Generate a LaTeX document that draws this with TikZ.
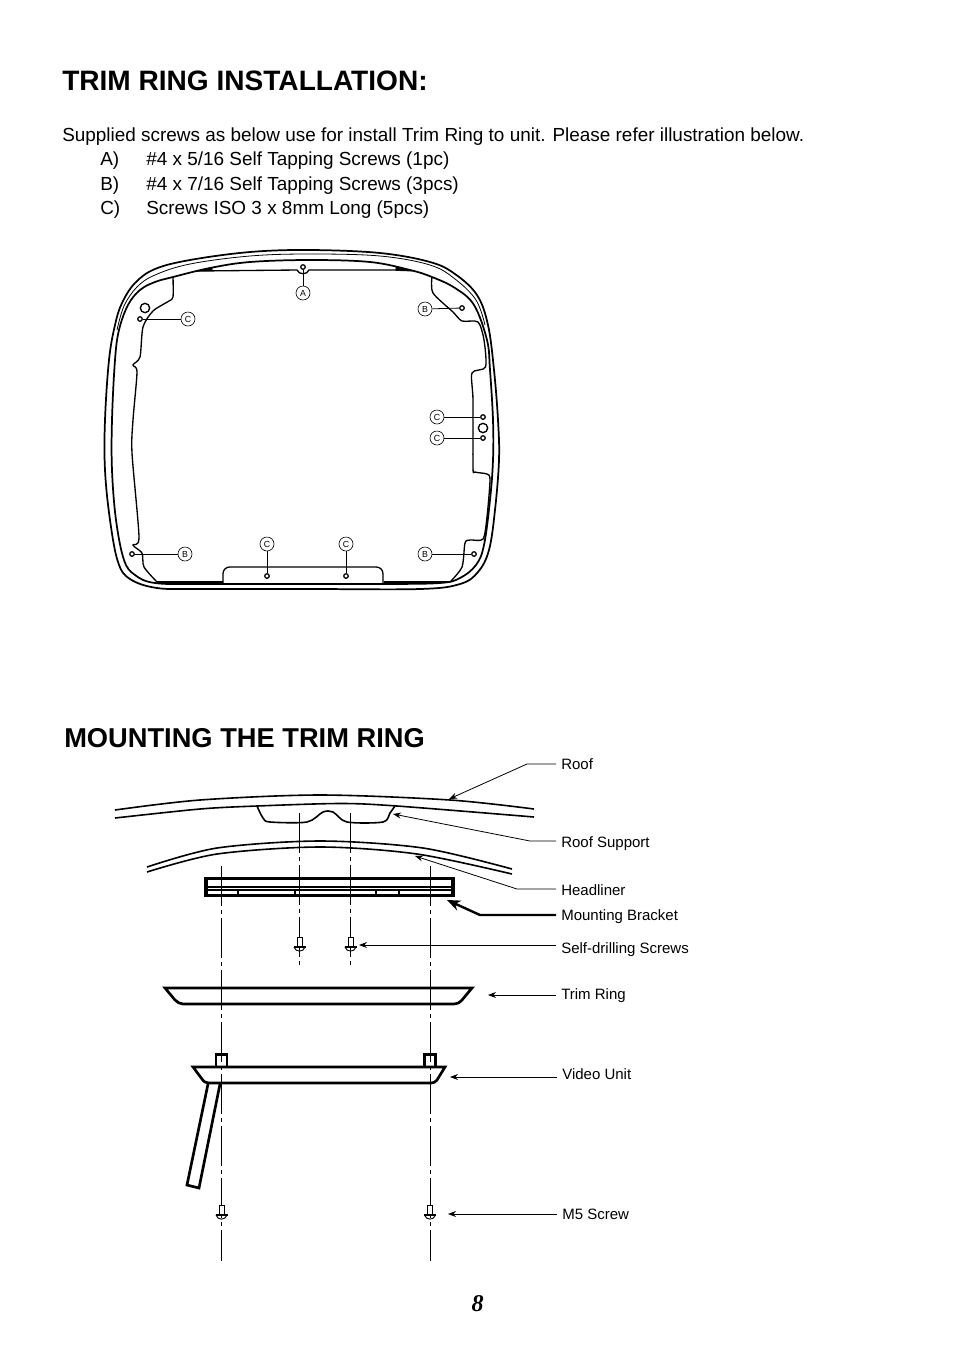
\documentclass[tikz,border=0pt]{standalone}
\usepackage{fontspec}
\setmainfont{Liberation Sans}
\newfontfamily\numfont{Liberation Serif}
\usetikzlibrary{arrows.meta}
\tikzset{
  heading/.style={anchor=west,inner sep=0pt,font=\bfseries\fontsize{21.05}{24}\selectfont},
  headingtwo/.style={anchor=west,inner sep=0pt,font=\bfseries\fontsize{20.45}{24}\selectfont},
  bodytext/.style={anchor=west,inner sep=0pt,font=\fontsize{14.2}{16}\selectfont},
  callout/.style={anchor=west,inner sep=0pt,inner xsep=3.75pt,font=\fontsize{11.25}{14}\selectfont},
  letter/.style={circle,draw,inner sep=0pt,minimum size=10.5pt,line width=0.45pt,font=\fontsize{6.6}{8}\selectfont},
  hole/.style={circle,draw,fill=white,inner sep=0pt,minimum size=3.4pt,line width=0.95pt},
  bighole/.style={circle,draw,fill=white,inner sep=0pt,minimum size=7pt,line width=1pt},
  ring/.style={line width=1.3pt},
  thinring/.style={line width=0.6pt},
  profile/.style={line width=1pt},
  part/.style={line width=2pt,line join=miter},
  roofline/.style={line width=1.2pt},
  axis/.style={line width=0.6pt,dash pattern=on 30pt off 3pt on 3pt off 3pt},
  leader/.style={-{Stealth[length=6pt,width=4.5pt]},line width=0.6pt},
  leaderthick/.style={-{Stealth[length=10pt,width=8pt]},line width=1.8pt}
}
\newcommand{\screwat}[2]{%
  \draw[line width=0.6pt,fill=white] (#1-2.5,#2) rectangle (#1+2.5,#2+10);
  \draw[line width=0.9pt] (#1-6,#2+10) -- (#1+6,#2+10);
  \draw[line width=0.7pt] (#1-5.5,#2+10) .. controls (#1-4,#2+15.5) and (#1+4,#2+15.5) .. (#1+5.5,#2+10);
}
\begin{document}
\begin{tikzpicture}[x=0.75pt,y=-0.75pt]
\path[use as bounding box,fill=white] (0,0) rectangle (954,1354);

% texts at the top
\node[heading] (title1) at (62,81) {TRIM RING INSTALLATION:};
\node[bodytext] (intro) at (62,137) {Supplied screws as below use for install Trim Ring to unit. Please refer illustration below.};
\node[bodytext] (itemA) at (100,161) {A)};
\node[bodytext] (textA) at (146,161) {\#4 x 5/16 Self Tapping Screws (1pc)};
\node[bodytext] (itemB) at (100,186) {B)};
\node[bodytext] (textB) at (146,186) {\#4 x 7/16 Self Tapping Screws (3pcs)};
\node[bodytext] (itemC) at (100,210) {C)};
\node[bodytext] (textC) at (146,210) {Screws ISO 3 x 8mm Long (5pcs)};

% rings
\draw[ring] plot[smooth cycle,tension=0.6] coordinates {(310,250) (380,253) (430,262) (455,274) (477,295) (488,325) (494,370) (498,420) (499,460) (495,510) (489,550) (478,572) (460,584) (420,589) (310,589) (200,589) (157,588) (130,579) (118,562) (110,520) (105,470) (105,420) (109,360) (115,325) (122,303) (135,283) (155,269) (190,260) (250,252)};
\draw[ring] plot[smooth cycle,tension=0.6] coordinates {(310,260) (370,262) (410,270) (432,277) (455,288) (474,305) (487,340) (490,370) (493,420) (493,460) (490,500) (484,545) (476,565) (460,578) (440,583) (384,584) (310,584) (200,584) (155,583) (135,575) (124,560) (116,520) (112,470) (112,420) (115,360) (119,330) (128,305) (140,290) (155,282) (173,277) (210,268) (250,262)};
\draw[thinring] plot[smooth,tension=0.6] coordinates {(117,330) (124,306) (137,287) (155,275) (190,264) (250,256) (310,254) (380,256) (430,265) (455,279) (476,300) (485,325)};

% inner edge
\draw[profile] plot[smooth,tension=0.45] coordinates {(173,277) (173,297) (169,301) (153,311) (143,327) (140,357) (133,365) (137,372) (133,420) (132,453) (139,537) (133,545) (142,553) (144,567) (157,582)};
\draw[profile] (157,582) -- (223,582);
\draw[profile,rounded corners=5pt] (223,583) -- (223,567) -- (383,567) -- (383,583);
\draw[profile] (384,582) -- (450,582);
\draw[profile] plot[smooth,tension=0.45] coordinates {(450,582) (462,567) (465,543) (470,540) (483,539) (487,517) (490,480) (487,474) (475,472) (473,467) (473,400) (472,373) (485.5,367) (484,340) (478,322) (462,321) (453,312) (433,293) (432,277)};
\draw[profile] (197,271) -- (297,270) .. controls (299,275) and (307,275) .. (309,270) -- (408,270);
\draw[line width=0.5pt,fill=black] (197,271) -- (212,267.5) -- (212,270.5) -- cycle;
\draw[line width=0.5pt,fill=black] (410,271) -- (396,267.5) -- (396,270.5) -- cycle;

% holes and their letters
\node[bighole] (holeLeft) at (145,308) {};
\node[bighole] (holeRight) at (483,428) {};
\node[hole] (holeA) at (303,267) {};
\node[hole] (holeB1) at (462,308) {};
\node[hole] (holeB2) at (132,554) {};
\node[hole] (holeB3) at (474,554) {};
\node[hole] (holeC1) at (140,319) {};
\node[hole] (holeC2) at (483,417) {};
\node[hole] (holeC3) at (483,438) {};
\node[hole] (holeC4) at (267,576) {};
\node[hole] (holeC5) at (346,576) {};
\node[letter] (letA) at (303,293) {A};
\node[letter] (letB1) at (425,309) {B};
\node[letter] (letB2) at (185,554) {B};
\node[letter] (letB3) at (425,554) {B};
\node[letter] (letC1) at (188,319) {C};
\node[letter] (letC2) at (437,417) {C};
\node[letter] (letC3) at (437,438) {C};
\node[letter] (letC4) at (267,544) {C};
\node[letter] (letC5) at (346,544) {C};
\foreach \a/\b in {letA/holeA,letB1/holeB1,letB2/holeB2,letB3/holeB3,letC1/holeC1,letC2/holeC2,letC3/holeC3,letC4/holeC4,letC5/holeC5}
  \draw[line width=0.6pt] (\a) -- (\b);

\node[headingtwo] (title2) at (64,738) {MOUNTING THE TRIM RING};

% roof, support, headliner
\draw[roofline] plot[smooth,tension=0.5] coordinates {(115,810) (200,800) (320,795) (450,800) (534,809)};
\draw[roofline] plot[smooth,tension=0.5] coordinates {(115,818) (200,809) (257,806) (340,803.5) (397,806) (534,817)};
\draw[roofline] plot[smooth,tension=0.5] coordinates {(257,806) (263,818) (270,822) (307,822) (323,812) (333,812) (347,822) (383,822) (390,813) (395,806)};
\draw[roofline] plot[smooth,tension=0.5] coordinates {(147,867) (217,848) (320,841) (423,848) (512,869)};
\draw[roofline] plot[smooth,tension=0.5] coordinates {(147,872) (217,854) (320,847) (417,854) (512,874)};

% mounting bracket
\draw[line width=2.6pt] (206,878.5) rectangle (453,895.5);
\draw[line width=1.3pt] (206,887) -- (453,887) (206,890) -- (453,890);
\foreach \tickx in {238,295,376,399}
  \draw[line width=0.8pt] (\tickx,890) -- (\tickx,895);

% centre lines
\foreach \axisx/\axistop/\axisend in {221.5/866/1261,430.5/866/1261,299.5/813/968,350.5/813/968}
  \draw[axis] (\axisx,\axistop) -- (\axisx,\axisend);

% screws
\screwat{299.5}{937}
\screwat{350.5}{937}
\screwat{221.5}{1205}
\screwat{430}{1205}

% trim ring and video unit
\draw[part] (165,988) -- (472,988) -- (462,1000) .. controls (459,1003) and (457,1004) .. (454,1004) -- (183,1004) .. controls (180,1004) and (177,1002) .. (175,1000) -- cycle;
\draw[part] (216,1054.5) rectangle (227,1067);
\draw[part] (424.5,1054.5) rectangle (435.5,1067);
\draw[part] (193,1067) -- (445,1067) -- (437,1080) .. controls (435,1082) and (434,1083) .. (431,1083) -- (209,1083) .. controls (206,1083) and (204,1082) .. (202,1079) -- cycle;
\draw[part] (208,1084) -- (187,1185) -- (199,1188) -- (220,1084);

% callouts
\node[callout] (roofLbl) at (556,764) {Roof};
\node[callout] (supportLbl) at (556,844) {Roof Support};
\node[callout] (headlinerLbl) at (556,890) {Headliner};
\node[callout] (bracketLbl) at (556,917) {Mounting Bracket};
\node[callout] (screwsLbl) at (556,950) {Self-drilling Screws};
\node[callout] (trimLbl) at (556,996) {Trim Ring};
\node[callout] (unitLbl) at (557,1074) {Video Unit};
\node[callout] (m5Lbl) at (557,1214) {M5 Screw};

\coordinate (roofBend) at (527,764);
\coordinate (roofEnd) at (449,799);
\coordinate (supportBend) at (530,841);
\coordinate (supportEnd) at (393,814);
\coordinate (headlinerBend) at (517,889);
\coordinate (headlinerEnd) at (415,856);
\coordinate (bracketBend) at (480,915);
\coordinate (bracketEnd) at (447,900);
\coordinate (screwsEnd) at (359,945);
\coordinate (trimEnd) at (488,995);
\coordinate (unitEnd) at (450,1077);
\coordinate (m5End) at (448,1214);

\draw[leader] (roofLbl.west) -- (roofBend) -- (roofEnd);
\draw[leader] (supportLbl.west |- supportBend) -- (supportBend) -- (supportEnd);
\draw[leader] (headlinerLbl.west |- headlinerBend) -- (headlinerBend) -- (headlinerEnd);
\draw[leaderthick] (bracketLbl.west |- bracketBend) -- (bracketBend) -- (bracketEnd);
\draw[leader] (screwsLbl.west |- screwsEnd) -- (screwsEnd);
\draw[leader] (trimLbl.west |- trimEnd) -- (trimEnd);
\draw[leader] (unitLbl.west |- unitEnd) -- (unitEnd);
\draw[leader] (m5Lbl.west) -- (m5End);

\node[inner sep=0pt,font=\numfont\bfseries\itshape\fontsize{18}{20}\selectfont] (pageNo) at (477.5,1304) {8};
\end{tikzpicture}
\end{document}
